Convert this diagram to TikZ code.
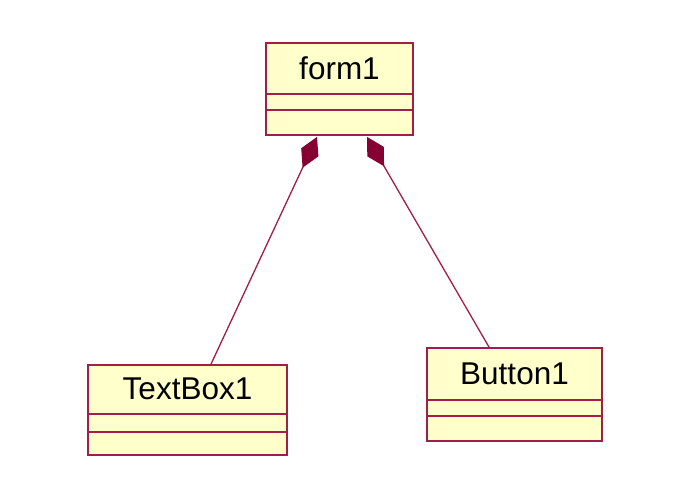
\documentclass[tikz,border=0pt]{standalone}
\usepackage{fontspec}
\setmainfont{Liberation Sans}
\usetikzlibrary{arrows.meta}
\definecolor{umlborder}{RGB}{160,30,72}
\definecolor{umlfill}{RGB}{255,255,204}
\definecolor{umldia}{RGB}{135,0,50}
\tikzset{
  umlbox/.style={draw=umlborder, fill=umlfill, line width=1.8pt, inner sep=0pt},
  umlsep/.style={draw=umlborder, line width=1.8pt},
  umltitle/.style={inner sep=0pt, font=\fontsize{31.5}{36}\selectfont, text=black},
  composition/.style={draw=umlborder, line width=1.3pt,
    {Diamond[length=34pt,width=19pt,fill=umldia,color=umldia]}-}
}
\begin{document}
\begin{tikzpicture}[x=1pt,y=-1pt]
\useasboundingbox (0,0) rectangle (690,486);
% form1
\node[umlbox, minimum width=147pt, minimum height=92pt] (form1) at (339.5,89) {};
\draw[umlsep] ([yshift=-52pt]form1.north west) -- ([yshift=-52pt]form1.north east);
\draw[umlsep] ([yshift=-68pt]form1.north west) -- ([yshift=-68pt]form1.north east);
\node[umltitle] (form1t) at ([yshift=-26pt]form1.north) {form1};
% TextBox1
\node[umlbox, minimum width=199pt, minimum height=90pt] (textbox1) at (187.5,410) {};
\draw[umlsep] ([yshift=-50pt]textbox1.north west) -- ([yshift=-50pt]textbox1.north east);
\draw[umlsep] ([yshift=-68pt]textbox1.north west) -- ([yshift=-68pt]textbox1.north east);
\node[umltitle] (textbox1t) at ([yshift=-25pt]textbox1.north) {TextBox1};
% Button1
\node[umlbox, minimum width=175pt, minimum height=93pt] (button1) at (514.5,394.5) {};
\draw[umlsep] ([yshift=-53pt]button1.north west) -- ([yshift=-53pt]button1.north east);
\draw[umlsep] ([yshift=-69pt]button1.north west) -- ([yshift=-69pt]button1.north east);
\node[umltitle] (button1t) at ([yshift=-26.5pt]button1.north) {Button1};
% connectors
\coordinate (a1) at ([xshift=-22.5pt,yshift=-1pt]form1.south);
\coordinate (b1) at ([xshift=23.5pt]textbox1.north);
\coordinate (a2) at ([xshift=27.5pt,yshift=-1pt]form1.south);
\coordinate (b2) at ([xshift=-25.5pt]button1.north);
\draw[composition] (a1) -- (b1);
\draw[composition] (a2) -- (b2);
\end{tikzpicture}
\end{document}
